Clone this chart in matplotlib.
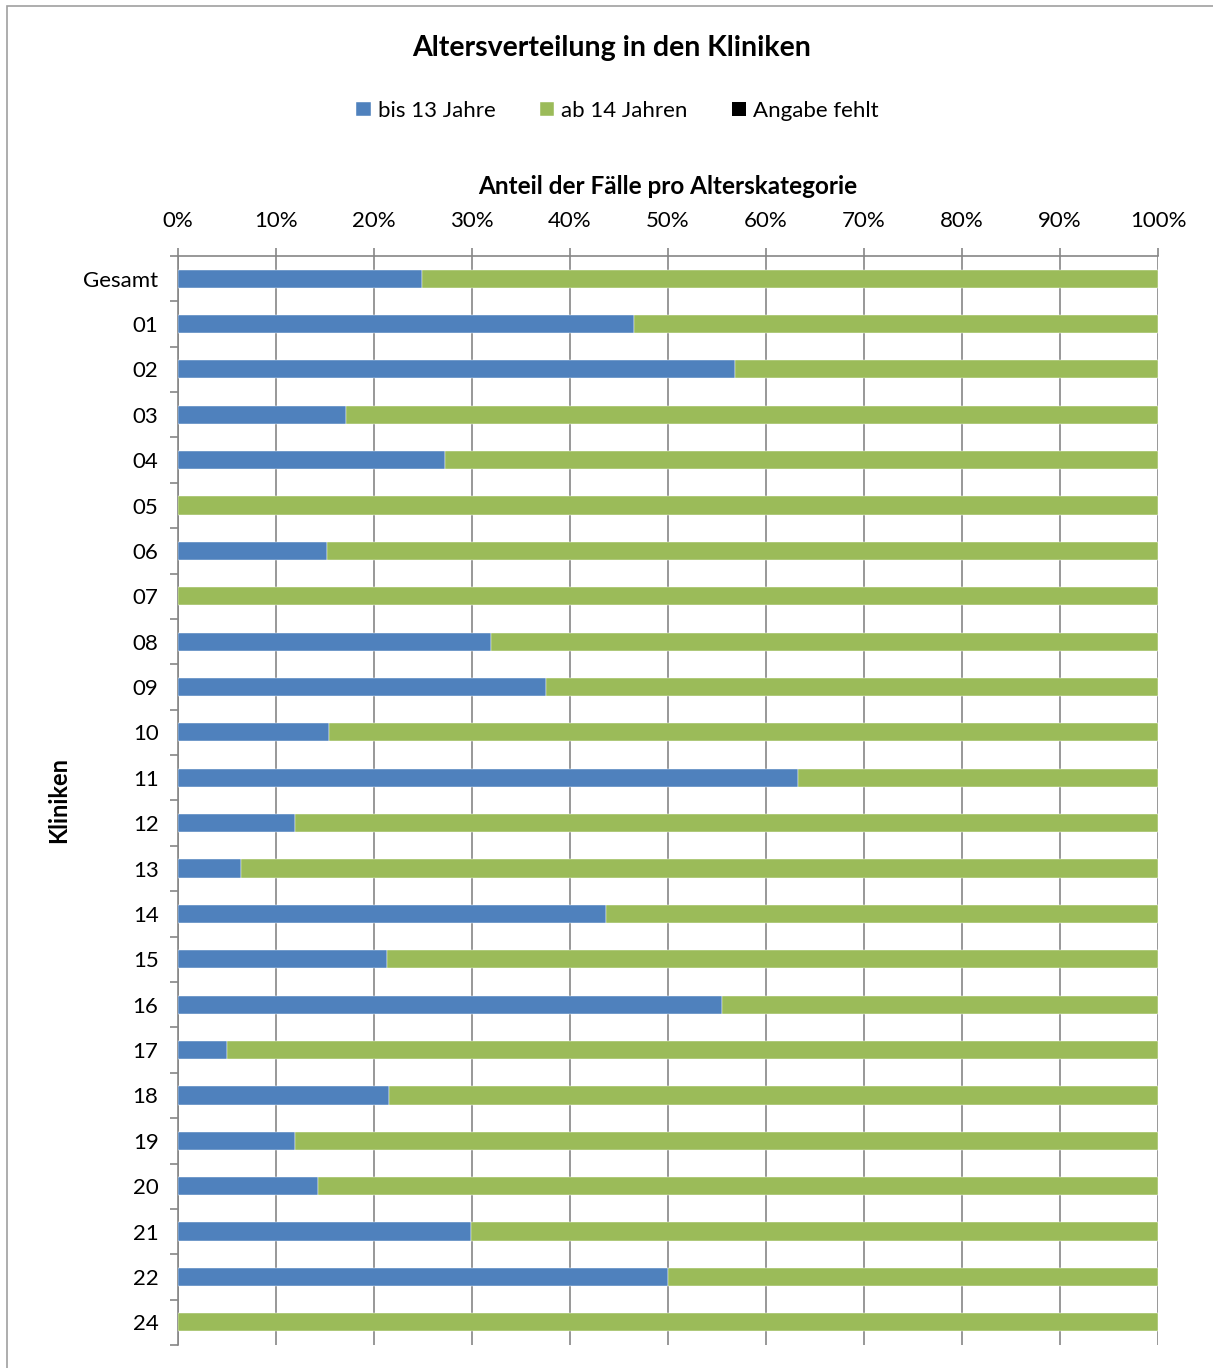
import matplotlib
matplotlib.use("Agg")
import matplotlib.pyplot as plt
from matplotlib.patches import Rectangle
import numpy as np

plt.rcParams['font.family'] = ['Lato', 'DejaVu Sans']

# Anteile in Prozent, von oben nach unten
kliniken = ["Gesamt", "01", "02", "03", "04", "05", "06", "07", "08", "09", "10",
            "11", "12", "13", "14", "15", "16", "17", "18", "19", "20", "21",
            "22", "24"]
bis_13 = [24.9, 46.5, 56.8, 17.1, 27.2, 0.0, 15.2, 0.0, 31.9, 37.6, 15.4,
          63.3, 11.9, 6.4, 43.7, 21.3, 55.5, 5.0, 21.5, 11.9, 14.3, 29.9,
          50.0, 0.0]
ab_14 = [100 - v for v in bis_13]
fehlt = [0.0] * len(kliniken)

blau = "#4F81BD"
gruen = "#9BBB59"
grau = "#868686"

fig = plt.figure(figsize=(12.13, 13.68), dpi=100)
ax = fig.add_axes([0.1467, 0.0168, 0.808, 0.7961])

y = np.arange(len(kliniken))
h = 0.4
ax.barh(y, bis_13, height=h, color=blau, edgecolor="white", linewidth=0.3,
        label="bis 13 Jahre", zorder=3)
ax.barh(y, ab_14, left=bis_13, height=h, color=gruen, edgecolor="white",
        linewidth=0.3, label="ab 14 Jahren", zorder=3)
ax.barh(y, fehlt, left=np.add(bis_13, ab_14), height=h, color="black",
        label="Angabe fehlt", zorder=3)

ax.set_ylim(len(kliniken) - 0.5, -0.5)
ax.set_xlim(0, 100)
ax.set_yticks(y)
ax.set_yticklabels(kliniken)
ax.set_yticks(np.arange(-0.5, len(kliniken), 1), minor=True)
ax.tick_params(axis="y", which="major", length=0, pad=14, labelsize=16)
ax.tick_params(axis="y", which="minor", length=6, color=grau, width=1.2)

ax.xaxis.tick_top()
ax.xaxis.set_label_position("top")
ax.set_xticks(np.arange(0, 101, 10))
ax.set_xticklabels([f"{v}%" for v in range(0, 101, 10)])
ax.tick_params(axis="x", length=6, color=grau, width=1.2, labelsize=16, pad=12)
ax.set_xlabel("Anteil der Fälle pro Alterskategorie", fontsize=17.5,
              fontweight="bold", labelpad=12)
ax.set_ylabel("Kliniken", fontsize=17, fontweight="bold")
ax.yaxis.set_label_coords(-0.110, 0.5)

ax.grid(axis="x", color=grau, linewidth=1.2, zorder=0)
for s in ["bottom", "right"]:
    ax.spines[s].set_visible(False)
for s in ["top", "left"]:
    ax.spines[s].set_color(grau)
    ax.spines[s].set_linewidth(1.2)

fig.text(0.504, 0.965, "Altersverteilung in den Kliniken", ha="center",
         va="center", fontsize=20.5, fontweight="bold")
fig.legend(loc="center", bbox_to_anchor=(0.509, 0.919), ncol=3, frameon=False,
           fontsize=16, handlelength=0.65, handleheight=0.65, handletextpad=0.3,
           columnspacing=2.0)

fig.patches.append(Rectangle((7 / 1213, -0.01), 1.1, 1 - 6 / 1368 + 0.01,
                             transform=fig.transFigure, fill=False,
                             edgecolor="#A0A0A0", linewidth=1.2))

fig.savefig("out.png", dpi=100)
